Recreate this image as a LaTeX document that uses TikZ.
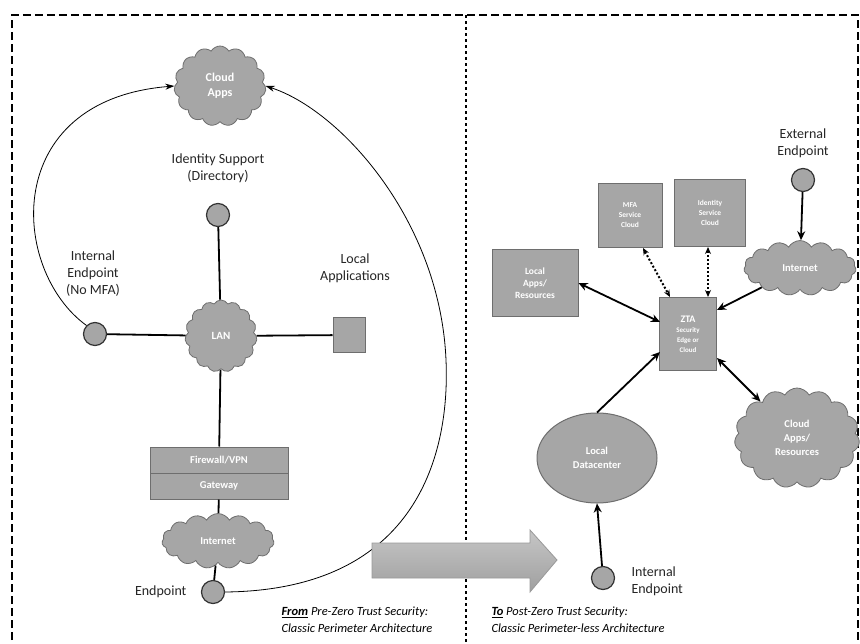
\documentclass[tikz,border=0pt]{standalone}
\usepackage{fontspec}
\setmainfont{Carlito}
\usetikzlibrary{shapes.symbols,shapes.geometric,arrows.meta}
\definecolor{shapegray}{HTML}{A6A6A6}
\definecolor{edgegray}{HTML}{6E6E6E}
\begin{document}
\begin{tikzpicture}[x=1pt,y=-1pt,
  lbl/.style={font=\fontsize{14}{17}\selectfont, align=center, text=black!85},
  gcloud/.style={cloud, cloud puffs=15, cloud puff arc=120, draw=edgegray, fill=shapegray, line width=0.8pt, text=white, align=center, inner sep=0pt},
  gbox/.style={rectangle, draw=edgegray, fill=shapegray, line width=1pt, text=white, align=center, inner sep=1pt},
  endpt/.style={circle, draw=black!80, fill=shapegray, line width=1.2pt, minimum size=23pt, inner sep=0pt},
  link/.style={line width=1.8pt, black},
  arr/.style={line width=1.8pt, black, -{Stealth[length=9pt,width=8pt]}},
  darr/.style={line width=1.8pt, black, {Stealth[length=9pt,width=8pt]}-{Stealth[length=9pt,width=8pt]}},
  dotarr/.style={line width=2pt, black, dash pattern=on 2pt off 2pt, {Stealth[length=7pt,width=6pt]}-{Stealth[length=7pt,width=6pt]}},
  thinarr/.style={line width=0.8pt, black, -{Stealth[length=9pt,width=6pt]}},
  captxt/.style={font=\fontsize{12.5}{15}\selectfont\itshape, align=left, anchor=west}]
\useasboundingbox (0,0) rectangle (860,643);
\fill[white] (0,0) rectangle (860,643);
% frame
\draw[line width=2.4pt, dash pattern=on 8pt off 4pt] (12,640) -- (12,15) -- (858,15) -- (858,640);
\draw[line width=1.2pt, dash pattern=on 3pt off 3pt] (466,15) -- (466,643);

% ---------- left side ----------
\node[gcloud, minimum width=92pt, minimum height=80pt, font=\bfseries\fontsize{12}{15}\selectfont] (capps) at (220,86) {Cloud\\Apps};
\node[lbl] (idlbl) at (218,168) {Identity Support\\(Directory)};
\node[endpt] (idc) at (218,215) {};
\node[gcloud, minimum width=72pt, minimum height=72pt, font=\bfseries\fontsize{11}{13}\selectfont] (lan) at (221,336) {LAN};
\node[lbl] (ielbl) at (93,274) {Internal\\Endpoint\\(No MFA)};
\node[endpt] (ie) at (95,334) {};
\node[lbl] (lalbl) at (355,268) {Local\\Applications};
\node[gbox, minimum width=32pt, minimum height=35pt] (lapp) at (349,335) {};
\node[gbox, minimum width=138pt, minimum height=26pt, font=\bfseries\fontsize{10.5}{12}\selectfont] (fw) at (219,460) {Firewall/VPN};
\node[gbox, minimum width=138pt, minimum height=26pt, font=\bfseries\fontsize{10.5}{12}\selectfont] (gw) at (219,486) {Gateway};
\node[gcloud, minimum width=112pt, minimum height=34pt, cloud puffs=15, font=\bfseries\fontsize{10.5}{12}\selectfont] (inet1) at (218,541) {Internet};
\node[endpt] (ep) at (213,592) {};
\node[lbl, anchor=east] (eplbl) at (190,592) {Endpoint};

\draw[link] (idc) -- (lan);
\draw[link] (ie) -- (lan);
\draw[link] (lan) -- (lapp);
\draw[link] (lan) -- (fw);
\draw[link] (gw) -- (inet1);
\draw[link] (inet1) -- (ep);
\draw[thinarr] (ie.north west) .. controls (10,270) and (0,100) .. (capps.west);
\draw[thinarr] (ep.east) .. controls (420,590) and (450,450) .. (446,360) .. controls (440,220) and (340,110) .. (capps.east);

% big transition arrow
\shade[top color=gray!45, bottom color=gray!75, draw=gray!80, line width=0.8pt] (372,543) -- (530,543) -- (530,530) -- (557,560) -- (530,592) -- (530,578) -- (372,578) -- cycle;

% captions
\node[captxt] (capl1) at (278,612) {\textbf{\underline{From}} Pre-Zero Trust Security:};
\node[captxt] (capl2) at (278,628) {Classic Perimeter Architecture};
\node[captxt] (capr1) at (488,612) {\textbf{\underline{To}} Post-Zero Trust Security:};
\node[captxt] (capr2) at (488,628) {Classic Perimeter-less Architecture};

% ---------- right side ----------
\node[lbl] (eelbl) at (803,143) {External\\Endpoint};
\node[endpt] (ee) at (803,180) {};
\node[gcloud, minimum width=112pt, minimum height=36pt, font=\bfseries\fontsize{10.5}{12}\selectfont] (inet2) at (800,268) {Internet};
\node[gbox, minimum width=64pt, minimum height=64pt, font=\bfseries\fontsize{7.5}{10}\selectfont] (mfa) at (630,215) {MFA\\Service\\Cloud};
\node[gbox, minimum width=71pt, minimum height=67pt, font=\bfseries\fontsize{7.5}{10}\selectfont] (ids) at (710,213) {Identity\\Service\\Cloud};
\node[gbox, minimum width=86pt, minimum height=67pt, font=\bfseries\fontsize{9.5}{12}\selectfont] (lar) at (535,283) {Local\\Apps/\\Resources};
\node[gbox, minimum width=57pt, minimum height=73pt, font=\bfseries\fontsize{7}{10}\selectfont] (zta) at (688,334) {{\fontsize{10}{11}\selectfont ZTA}\\Security\\Edge or\\Cloud};
\node[gcloud, minimum width=125pt, minimum height=100pt, font=\bfseries\fontsize{10.5}{14}\selectfont] (crs) at (797,438) {Cloud\\Apps/\\Resources};
\node[ellipse, draw=edgegray, fill=shapegray, line width=1pt, minimum width=120pt, minimum height=90pt, text=white, align=center, font=\bfseries\fontsize{10.5}{14}\selectfont] (ldc) at (597,458) {Local\\Datacenter};
\node[endpt] (ie2) at (603,578) {};
\node[lbl, align=left, anchor=west] (ie2lbl) at (628,581) {Internal\\Endpoint};

\coordinate (mfab) at (643,248);
\coordinate (ztat1) at (670,297);
\coordinate (idsb) at (708,247);
\coordinate (ztat2) at (708,297);
\coordinate (ztal1) at (660,322);
\coordinate (ztal2) at (660,352);
\coordinate (ztar1) at (717,310);
\coordinate (ztar2) at (717,358);

\draw[arr] (ee) -- (inet2);
\draw[arr] (inet2) -- (ztar1);
\draw[dotarr] (mfab) -- (ztat1);
\draw[dotarr] (idsb) -- (ztat2);
\draw[darr] (lar.east) -- (ztal1);
\draw[arr] (ldc.north) -- (ztal2);
\draw[darr] (ztar2) -- (crs);
\draw[arr] (ie2) -- (ldc.south);
\end{tikzpicture}
\end{document}
